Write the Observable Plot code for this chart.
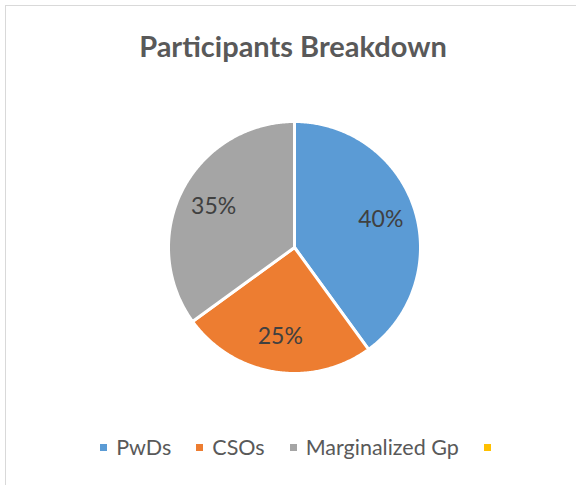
<!DOCTYPE html>
<html>
<head>
<meta charset="utf-8">
<script src="https://cdn.jsdelivr.net/npm/d3@7"></script>
<script src="https://cdn.jsdelivr.net/npm/@observablehq/plot@0.6"></script>
<style>
  html, body { margin: 0; padding: 0; background: #fff; }
  #wrap { position: relative; width: 576px; height: 485px; overflow: hidden; font-family: Lato, "Open Sans", sans-serif; background: #fff; }
  #chart { position: absolute; left: 0; top: 0; }
  #frame { position: absolute; left: 5px; top: 5px; width: 700px; height: 700px; border-top: 1.5px solid #d9d9d9; border-left: 1.5px solid #d9d9d9; z-index: 3; }
  #title { position: absolute; left: 0; width: 586px; top: 29px; text-align: center; font-weight: bold; font-size: 29px; line-height: 34.8px; color: #595959; z-index: 2; white-space: nowrap; }
  #legend { position: absolute; left: 0; width: 591px; top: 434.5px; display: flex; justify-content: center; font-size: 21.5px; line-height: 25.8px; color: #595959; z-index: 2; white-space: nowrap; }
  .item { display: inline-flex; align-items: center; margin-right: 25px; }
  .item:last-child { margin-right: 0; }
  .sw { width: 7px; height: 7px; margin-right: 9px; }
  .item:last-child .sw { margin-right: 0; }
</style>
</head>
<body>
<div id="wrap">
  <div id="frame"></div>
  <div id="chart"></div>
  <div id="title"></div>
  <div id="legend"></div>
</div>
<script>
const title = "Participants Breakdown";
const categories = ["PwDs", "CSOs", "Marginalized Gp", ""];
const values = [40, 25, 35];
const labels = ["40%", "25%", "35%"];
const colors = ["#5B9BD5", "#ED7D31", "#A5A5A5", "#FFC000"];

const arcs = d3.pie().sort(null)(values);

// Build slice polygons in unit coordinates (clockwise from 12 o'clock, y down)
const features = arcs.map((a, i) => {
  const n = Math.max(2, Math.ceil((a.endAngle - a.startAngle) / (Math.PI / 360)));
  const ring = [[0, 0]];
  for (let k = 0; k <= n; k++) {
    const t = a.startAngle + (a.endAngle - a.startAngle) * k / n;
    ring.push([Math.sin(t), -Math.cos(t)]);
  }
  ring.push([0, 0]);
  return {type: "Feature", properties: {cat: categories[i]}, geometry: {type: "Polygon", coordinates: [ring]}};
});

const labelData = arcs.map((a, i) => {
  const m = (a.startAngle + a.endAngle) / 2;
  return {x: 0.72 * Math.sin(m), y: -0.72 * Math.cos(m), text: labels[i]};
});

const chart = Plot.plot({
  width: 576,
  height: 485,
  marginLeft: 168,
  marginRight: 156,
  marginTop: 121,
  marginBottom: 112,
  style: {background: "transparent"},
  projection: {type: "identity", domain: {type: "MultiPoint", coordinates: [[-1, -1], [1, 1]]}},
  color: {domain: categories, range: colors},
  marks: [
    Plot.geo(features, {fill: d => d.properties.cat, stroke: "white", strokeWidth: 3, strokeLinejoin: "round"}),
    Plot.text(labelData, {x: "x", y: "y", text: "text", fontSize: 23, fontFamily: "Lato", fill: "#404040"})
  ]
});
document.getElementById("chart").appendChild(chart);

document.getElementById("title").textContent = title;

const legend = document.getElementById("legend");
categories.forEach((c, i) => {
  const item = document.createElement("span");
  item.className = "item";
  const sw = document.createElement("span");
  sw.className = "sw";
  sw.style.background = colors[i];
  item.appendChild(sw);
  if (c) {
    const t = document.createElement("span");
    t.textContent = c;
    item.appendChild(t);
  }
  legend.appendChild(item);
});
</script>
</body>
</html>
